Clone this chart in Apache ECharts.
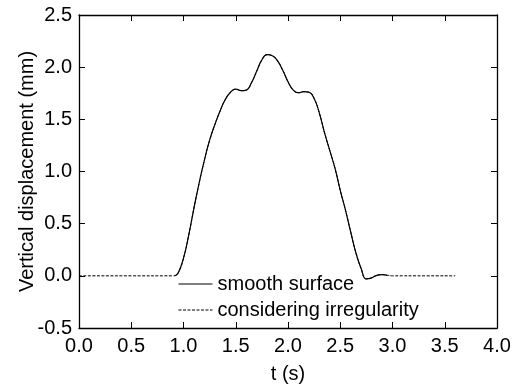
<!DOCTYPE html>
<html>
<head>
<meta charset="utf-8">
<style>
  html, body { margin: 0; padding: 0; background: #fff; }
  #main { width: 519px; height: 389px; }
</style>
<script src="https://cdn.jsdelivr.net/npm/echarts@6/dist/echarts.min.js"></script>
</head>
<body>
<div id="main"></div>
<script>
// time (s) and vertical displacement (mm)
var t_smooth = [0.92, 0.95, 1.00, 1.05, 1.10, 1.15, 1.20, 1.25, 1.30, 1.35, 1.40, 1.45, 1.50, 1.55, 1.60, 1.65, 1.70, 1.75, 1.80, 1.85, 1.90, 1.95, 2.00, 2.05, 2.10, 2.15, 2.20, 2.25, 2.30, 2.35, 2.40, 2.45, 2.50, 2.55, 2.60, 2.65, 2.70, 2.75, 2.80, 2.85, 2.90, 2.95];
var v_smooth = [0.00, 0.03, 0.17, 0.39, 0.65, 0.89, 1.11, 1.30, 1.45, 1.58, 1.69, 1.76, 1.79, 1.775, 1.78, 1.85, 1.96, 2.07, 2.12, 2.11, 2.06, 1.97, 1.86, 1.78, 1.755, 1.765, 1.76, 1.70, 1.56, 1.37, 1.20, 1.03, 0.82, 0.63, 0.42, 0.22, 0.07, -0.03, -0.02, 0.005, 0.012, 0.005];

var t_irreg = [0.00, 0.50, 0.90, 0.95, 1.00, 1.05, 1.10, 1.15, 1.20, 1.25, 1.30, 1.35, 1.40, 1.45, 1.50, 1.55, 1.60, 1.65, 1.70, 1.75, 1.80, 1.85, 1.90, 1.95, 2.00, 2.05, 2.10, 2.15, 2.20, 2.25, 2.30, 2.35, 2.40, 2.45, 2.50, 2.55, 2.60, 2.65, 2.70, 2.75, 2.80, 2.85, 2.90, 2.95, 3.00, 3.30, 3.60];
var v_irreg = [0.00, 0.00, 0.00, 0.03, 0.17, 0.39, 0.65, 0.89, 1.11, 1.30, 1.45, 1.58, 1.69, 1.76, 1.79, 1.775, 1.78, 1.85, 1.96, 2.07, 2.12, 2.11, 2.06, 1.97, 1.86, 1.78, 1.755, 1.765, 1.76, 1.70, 1.56, 1.37, 1.20, 1.03, 0.82, 0.63, 0.42, 0.22, 0.07, -0.03, -0.02, 0.005, 0.012, 0.005, 0.00, 0.00, 0.00];

var series_names = ['smooth surface', 'considering irregularity'];
var x_range = [0, 4, 0.5];
var y_range = [-0.5, 2.5, 0.5];

function pairs(xs, ys) {
    var out = [];
    for (var i = 0; i < xs.length; i++) {
        out.push([xs[i], ys[i]]);
    }
    return out;
}

var font = 'Arial, "Liberation Sans", sans-serif';
var black = '#000';

var myChart = echarts.init(document.getElementById('main'), null, {renderer: 'canvas'});

var option = {
    animation: false,
    backgroundColor: '#fff',
    textStyle: {fontFamily: font, color: black},
    grid: {left: 79, right: 22, top: 15, bottom: 60, containLabel: false},
    legend: {
        orient: 'vertical',
        left: 178,
        top: 274,
        itemWidth: 34,
        itemHeight: 14,
        itemGap: 6,
        padding: 0,
        data: series_names,
        itemStyle: {opacity: 0},   // line only, no marker
        lineStyle: {width: 1},
        textStyle: {fontFamily: font, fontSize: 20, color: black}
    },
    xAxis: [
        {   // bottom axis
            type: 'value',
            min: x_range[0], max: x_range[1], interval: x_range[2],
            name: 't (s)',
            nameLocation: 'middle',
            nameGap: 36,
            nameMoveOverlap: false,
            nameTextStyle: {fontFamily: font, fontSize: 20, color: black},
            axisLine: {onZero: false, lineStyle: {color: black, width: 1.3}},
            axisTick: {inside: true, length: 6, lineStyle: {color: black, width: 1}},
            axisLabel: {fontFamily: font, fontSize: 20, color: black, margin: 8,
                formatter: function (v) { return v.toFixed(1); }},
            splitLine: {show: false}
        },
        {   // mirrored top axis
            type: 'value', position: 'top',
            min: x_range[0], max: x_range[1], interval: x_range[2],
            axisLine: {onZero: false, lineStyle: {color: black, width: 1.3}},
            axisTick: {inside: true, length: 6, lineStyle: {color: black, width: 1}},
            axisLabel: {show: false},
            splitLine: {show: false}
        }
    ],
    yAxis: [
        {
            type: 'value',
            min: y_range[0], max: y_range[1], interval: y_range[2],
            name: 'Vertical displacement (mm)',
            nameLocation: 'middle',
            nameGap: 42,
            nameMoveOverlap: false,
            nameTextStyle: {fontFamily: font, fontSize: 20, color: black},
            axisLine: {onZero: false, lineStyle: {color: black, width: 1.3}},
            axisTick: {inside: true, length: 6, lineStyle: {color: black, width: 1}},
            axisLabel: {fontFamily: font, fontSize: 20, color: black, margin: 7,
                formatter: function (v) { return v.toFixed(1); }},
            splitLine: {show: false}
        },
        {
            type: 'value', position: 'right',
            min: y_range[0], max: y_range[1], interval: y_range[2],
            axisLine: {onZero: false, lineStyle: {color: black, width: 1.3}},
            axisTick: {inside: true, length: 6, lineStyle: {color: black, width: 1}},
            axisLabel: {show: false},
            splitLine: {show: false}
        }
    ],
    series: [
        {
            name: series_names[1],
            type: 'line',
            data: pairs(t_irreg, v_irreg),
            smooth: 0.5,
            symbol: 'none',
            lineStyle: {color: black, width: 1, type: [3, 1.5]},
            itemStyle: {color: black}
        },
        {
            name: series_names[0],
            type: 'line',
            data: pairs(t_smooth, v_smooth),
            smooth: 0.5,
            symbol: 'none',
            lineStyle: {color: black, width: 1.2},
            itemStyle: {color: black}
        }
    ]
};
myChart.setOption(option);
</script>
</body>
</html>
